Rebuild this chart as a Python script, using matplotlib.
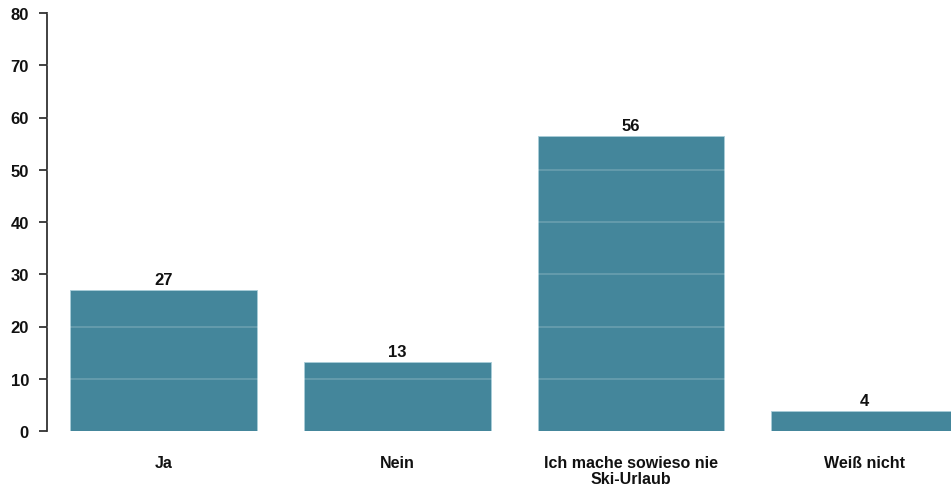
import matplotlib
matplotlib.use("Agg")
import matplotlib.pyplot as plt

# --- data ---
categories = ["Ja", "Nein", "Ich mache sowieso nie\nSki-Urlaub", "Weiß nicht"]
values = [27.0, 13.2, 56.5, 3.8]
value_labels = ["27", "13", "56", "4"]
y_ticks = [0, 10, 20, 30, 40, 50, 60, 70, 80]

bar_color = "#44869b"

plt.rcParams['font.family'] = ['Liberation Sans', 'DejaVu Sans']

fig = plt.figure(figsize=(9.51, 4.89), dpi=100)
ax = fig.add_axes([47 / 951, 57 / 489, (951 - 47) / 951, (432 - 14) / 489])

x = list(range(len(categories)))
bars = ax.bar(x, values, width=0.8, color=bar_color, edgecolor="#a9cdd8",
              linewidth=0.6, zorder=2)

# faint white grid lines over the bars
for t in y_ticks[1:]:
    ax.axhline(t, color="white", alpha=0.2, linewidth=1.2, zorder=3)

for b, lab in zip(bars, value_labels):
    ax.annotate(lab, (b.get_x() + b.get_width() / 2, b.get_height()),
                xytext=(0, 2), textcoords="offset points",
                ha="center", va="bottom", fontsize=12, fontweight="bold",
                color="#111111")

ax.set_xlim(-0.50, 3.37)
ax.set_ylim(0, 80)
ax.set_yticks(y_ticks)
ax.set_xticks(x)
ax.set_xticklabels(categories, fontsize=11.5, fontweight="bold", color="#111111",
                   linespacing=1.15)
ax.tick_params(axis="x", length=0, pad=17)
ax.tick_params(axis="y", length=6, width=1.3, color="#333333", pad=7,
               labelsize=12, labelcolor="#111111")
for lab in ax.get_yticklabels():
    lab.set_fontweight("bold")

for s in ["top", "right", "bottom"]:
    ax.spines[s].set_visible(False)
ax.spines["left"].set_color("#333333")
ax.spines["left"].set_linewidth(1.3)

fig.savefig("out.png", dpi=100)
